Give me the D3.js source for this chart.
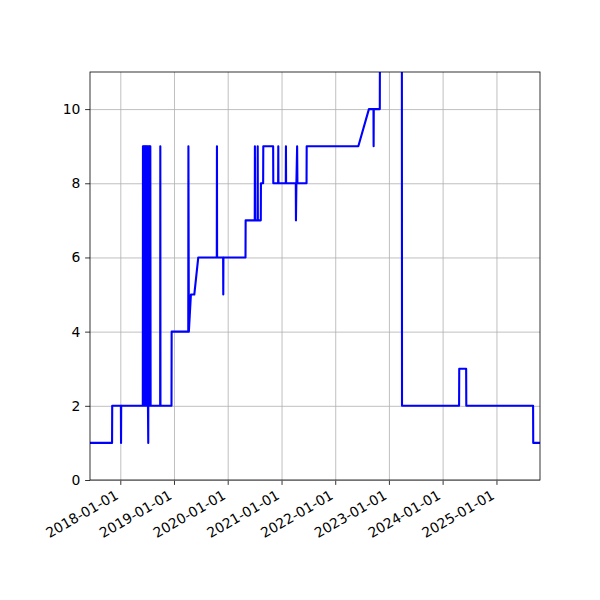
<!DOCTYPE html>
<html>
<head>
<meta charset="utf-8">
<script src="https://cdn.jsdelivr.net/npm/d3@7"></script>
<style>
  body { margin: 0; background: #fff; }
  text { font-family: 'DejaVu Sans', sans-serif; }
</style>
</head>
<body>
<svg width="600" height="600"></svg>
<script>
const svg = d3.select('svg');

const width = +svg.attr('width');
const height = +svg.attr('height');

// dates of the points (the line just connects them in order)
const dates = [
  '2017-06-09', '2017-11-06', '2017-11-07', '2018-01-05', '2018-01-06', '2018-01-07',
  '2018-06-03', '2018-06-04', '2018-06-06', '2018-06-08', '2018-06-10', '2018-06-12',
  '2018-06-14', '2018-06-16', '2018-06-18', '2018-06-20', '2018-06-22', '2018-06-24',
  '2018-06-26', '2018-06-28', '2018-06-30', '2018-07-02', '2018-07-04', '2018-07-06',
  '2018-07-08', '2018-07-10', '2018-07-12', '2018-07-14', '2018-07-16', '2018-07-18',
  '2018-07-20', '2018-07-22', '2018-07-24', '2018-07-26',
  '2018-09-29', '2018-09-30', '2018-10-01', '2018-12-15', '2018-12-16',
  '2019-04-08', '2019-04-09', '2019-04-12', '2019-04-26', '2019-05-19', '2019-06-15',
  '2019-10-19', '2019-10-20', '2019-10-21', '2019-12-01', '2019-12-02', '2019-12-03',
  '2020-05-01', '2020-05-02', '2020-07-03', '2020-07-04', '2020-07-05', '2020-07-22',
  '2020-07-23', '2020-07-24', '2020-08-13', '2020-08-14', '2020-08-29', '2020-08-30',
  '2020-11-05', '2020-11-06', '2020-12-09', '2020-12-10', '2020-12-11',
  '2021-01-30', '2021-01-31', '2021-02-01', '2021-04-08', '2021-04-09', '2021-04-12',
  '2021-04-17', '2021-04-19', '2021-06-20', '2021-06-21',
  '2022-06-07', '2022-08-18', '2022-09-18', '2022-09-19', '2022-09-20', '2022-10-31',
  '2022-11-01', '2023-03-30', '2023-03-31',
  '2024-04-22', '2024-04-23', '2024-06-09', '2024-06-10',
  '2025-09-07', '2025-09-08', '2025-10-24'
];

const values = [
  1, 1, 2, 2, 1, 2,
  2, 9, 2, 9, 2, 9,
  2, 9, 2, 9, 2, 9,
  2, 9, 2, 9, 2, 9,
  2, 1, 9, 2, 9, 2,
  9, 2, 9, 2,
  2, 9, 2, 2, 4,
  4, 9, 4, 5, 5, 6,
  6, 9, 6, 6, 5, 6,
  6, 7, 7, 9, 7, 7,
  9, 7, 7, 8, 8, 9,
  9, 8, 8, 9, 8,
  8, 9, 8, 8, 7, 8,
  9, 8, 8, 9,
  9, 10, 10, 9, 10, 10,
  12, 12, 2,
  2, 3, 3, 2,
  2, 1, 1
];

const yTicks = [0, 2, 4, 6, 8, 10];
const xTicks = ['2018-01-01', '2019-01-01', '2020-01-01', '2021-01-01',
  '2022-01-01', '2023-01-01', '2024-01-01', '2025-01-01'];

const parse = d3.timeParse('%Y-%m-%d');
const data = dates.map((d, i) => ({ date: parse(d), value: values[i] }));

const render = input => {
  const xValue = d => d.date;
  const yValue = d => d.value;
  const margin = { top: 72, right: 60, bottom: 120, left: 90 };
  const innerWidth = width - margin.left - margin.right;
  const innerHeight = height - margin.top - margin.bottom;

  const xScale = d3.scaleTime()
    .domain(d3.extent(input, xValue))
    .range([0, innerWidth]);

  const yScale = d3.scaleLinear()
    .domain([0, 11])
    .range([innerHeight, 0]);

  const g = svg.append('g')
    .attr('transform', `translate(${margin.left},${margin.top})`);

  g.append('defs').append('clipPath')
      .attr('id', 'clip')
    .append('rect')
      .attr('width', innerWidth)
      .attr('height', innerHeight);

  // grid
  const xAxis = d3.axisBottom(xScale)
    .tickValues(xTicks.map(parse))
    .tickFormat(d3.timeFormat('%Y-%m-%d'))
    .tickSize(-innerHeight)
    .tickPadding(0);

  const yAxis = d3.axisLeft(yScale)
    .tickValues(yTicks)
    .tickSize(-innerWidth)
    .tickPadding(0);

  const xg = g.append('g')
    .attr('transform', `translate(0,${innerHeight})`)
    .call(xAxis);
  xg.select('.domain').remove();
  xg.selectAll('.tick line').attr('stroke', '#b0b0b0').attr('stroke-width', 0.8);
  xg.selectAll('.tick').append('line')
    .attr('y2', 4.9).attr('stroke', '#000').attr('stroke-width', 0.8);
  xg.selectAll('.tick text')
    .attr('font-size', 13.9)
    .attr('fill', '#000')
    .attr('text-anchor', 'end')
    .attr('dy', null)
    .attr('y', null)
    .attr('transform', 'translate(-1.5,18) rotate(-30)');

  const yg = g.append('g').call(yAxis);
  yg.select('.domain').remove();
  yg.selectAll('.tick line').attr('stroke', '#b0b0b0').attr('stroke-width', 0.8);
  yg.selectAll('.tick').append('line')
    .attr('x2', -4.9).attr('stroke', '#000').attr('stroke-width', 0.8);
  yg.selectAll('.tick text')
    .attr('font-size', 13.9)
    .attr('fill', '#000')
    .attr('x', -9.7);

  const line = d3.line()
    .x(d => xScale(xValue(d)))
    .y(d => yScale(yValue(d)));

  g.append('path')
    .datum(input)
    .attr('clip-path', 'url(#clip)')
    .attr('fill', 'none')
    .attr('stroke', '#0000ff')
    .attr('stroke-width', 2.1)
    .attr('stroke-linejoin', 'round')
    .attr('d', line);

  // frame
  g.append('rect')
    .attr('width', innerWidth)
    .attr('height', innerHeight)
    .attr('fill', 'none')
    .attr('stroke', '#000')
    .attr('stroke-width', 0.8);
};

render(data);
</script>
</body>
</html>
